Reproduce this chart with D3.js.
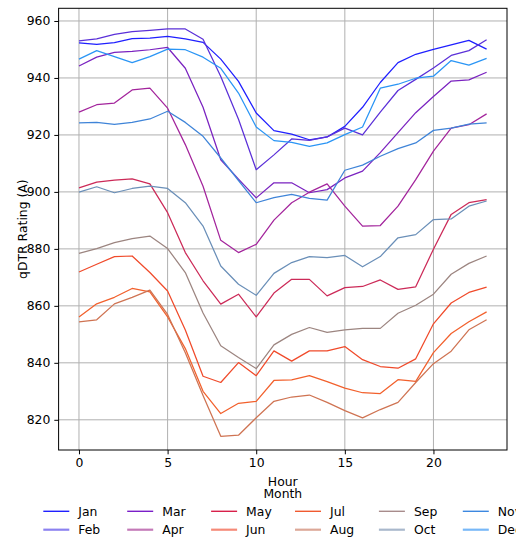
<!DOCTYPE html>
<html>
<head>
<meta charset="utf-8">
<script src="https://cdn.jsdelivr.net/npm/d3@7"></script>
<style>
  html, body { margin: 0; padding: 0; background: #fff; }
  svg { display: block; font-family: "DejaVu Sans", sans-serif; }
</style>
</head>
<body>
<svg id="chart" width="516" height="538"></svg>
<script>
// Hourly qDTR rating (A) for each month of the year
const hours = d3.range(0, 24);
const months = ["Jan", "Feb", "Mar", "Apr", "May", "Jun", "Jul", "Aug", "Sep", "Oct", "Nov", "Dec"];

const jan = [952.3, 951.8, 952.4, 953.8, 954.0, 954.6, 953.7, 952.5, 946.6, 938.8, 927.7, 921.5, 920.3, 918.3, 919.3, 923.0, 929.7, 938.4, 945.4, 948.3, 950.0, 951.6, 953.2, 950.1];
const feb = [953.0, 953.7, 955.3, 956.3, 956.7, 957.2, 957.2, 953.6, 940.5, 925.5, 907.8, 913.0, 918.6, 918.1, 919.3, 922.4, 920.0, 928.0, 935.6, 939.5, 943.5, 947.9, 949.6, 953.4];
const mar = [944.2, 947.3, 949.0, 949.3, 949.9, 950.7, 943.4, 929.7, 911.3, 904.5, 897.9, 903.2, 903.2, 899.7, 900.8, 904.9, 907.3, 913.8, 920.8, 927.8, 933.5, 938.9, 939.3, 942.0];
const apr = [928.0, 930.6, 931.2, 935.8, 936.4, 929.4, 916.6, 902.0, 883.0, 878.7, 881.6, 890.1, 896.2, 899.9, 902.8, 895.0, 888.0, 888.2, 895.0, 904.3, 914.3, 922.4, 923.6, 927.4];
const may = [901.4, 903.4, 904.1, 904.6, 902.8, 892.7, 878.7, 868.8, 860.6, 864.1, 856.1, 864.5, 869.3, 869.3, 863.5, 866.4, 866.8, 869.1, 865.8, 866.7, 879.9, 892.1, 896.2, 897.3];
const jun = [871.9, 874.6, 877.3, 877.5, 871.7, 865.2, 851.5, 835.3, 833.1, 840.1, 835.5, 844.2, 840.6, 844.2, 844.2, 845.7, 841.1, 838.7, 838.1, 841.4, 853.7, 861.0, 864.7, 866.6];
const jul = [856.1, 860.7, 863.0, 866.1, 864.9, 856.1, 845.0, 830.0, 822.2, 825.8, 826.5, 833.8, 834.0, 835.5, 833.4, 831.1, 829.5, 829.2, 834.1, 833.5, 843.6, 850.3, 854.4, 857.9];
const aug = [854.4, 855.1, 860.7, 863.0, 865.5, 857.0, 843.5, 828.5, 814.2, 814.6, 820.7, 826.5, 828.0, 828.7, 826.1, 823.2, 820.7, 823.6, 826.1, 833.1, 839.7, 844.1, 851.6, 855.1];
const sep = [878.4, 880.1, 882.2, 883.6, 884.5, 880.1, 871.7, 857.5, 846.0, 841.9, 838.0, 846.3, 850.0, 852.4, 850.7, 851.6, 852.1, 852.1, 857.4, 860.2, 864.1, 871.1, 874.9, 877.5];
const oct = [899.9, 901.8, 899.7, 901.2, 902.0, 901.2, 896.2, 888.0, 874.0, 867.6, 863.7, 871.4, 875.2, 877.3, 876.9, 877.7, 873.7, 877.3, 883.9, 885.0, 890.3, 890.5, 895.0, 896.8];
const nov = [924.2, 924.4, 923.7, 924.4, 925.6, 928.3, 924.4, 919.5, 911.9, 904.0, 896.2, 898.0, 899.1, 897.7, 897.1, 907.6, 909.4, 912.5, 915.2, 917.2, 921.6, 922.4, 923.8, 924.2];
const dec = [946.6, 949.6, 947.5, 945.4, 947.5, 950.1, 949.9, 947.3, 943.4, 934.7, 922.8, 918.0, 917.4, 916.0, 917.2, 920.1, 922.8, 936.4, 937.8, 939.9, 940.6, 946.1, 944.5, 946.9];

const seriesValues = [jan, feb, mar, apr, may, jun, jul, aug, sep, oct, nov, dec];

const xTicks = [0, 5, 10, 15, 20];
const yTicks = [820, 840, 860, 880, 900, 920, 940, 960];

// Line colours per month, and the lighter shades used by alternate legend keys
const lineColors = ["#1f1fff", "#5b30d8", "#7a22c0", "#a3249c", "#cc2a58", "#f04a2a",
                    "#f2602c", "#cf7352", "#9c8580", "#6a8fb8", "#3f84d8", "#2a95f5"];
const keyColors = ["#2020ff", "#8c82f0", "#7a1ec8", "#c47ab8", "#d8204a", "#f58a78",
                   "#f05a30", "#dca898", "#a88c8c", "#a9b8cc", "#3c88e0", "#78b8f8"];

const svg = d3.select("#chart");
const font = "12.4px";

const plot = { left: 58.6, right: 507, top: 8.3, bottom: 450 };

const x = d3.scaleLinear().domain([-1.15, 24.15]).range([plot.left, plot.right]);
const y = d3.scaleLinear().domain([809.4, 964.45]).range([plot.bottom, plot.top]);

// Grid
const grid = svg.append("g").attr("stroke", "#b0b0b0").attr("stroke-width", 1);
grid.selectAll("line.vx").data(xTicks).join("line")
  .attr("x1", d => x(d)).attr("x2", d => x(d))
  .attr("y1", plot.top).attr("y2", plot.bottom);
grid.selectAll("line.hy").data(yTicks).join("line")
  .attr("x1", plot.left).attr("x2", plot.right)
  .attr("y1", d => y(d)).attr("y2", d => y(d));

// Month lines
const line = d3.line().x((d, i) => x(hours[i])).y(d => y(d));
svg.append("g").selectAll("path").data(seriesValues).join("path")
  .attr("d", line)
  .attr("fill", "none")
  .attr("stroke", (d, i) => lineColors[i])
  .attr("stroke-width", 1.25)
  .attr("stroke-linejoin", "round");

// Axes
const xAxis = svg.append("g")
  .attr("transform", `translate(0,${plot.bottom})`)
  .call(d3.axisBottom(x).tickValues(xTicks).tickSize(4.3).tickPadding(4));
const yAxis = svg.append("g")
  .attr("transform", `translate(${plot.left},0)`)
  .call(d3.axisLeft(y).tickValues(yTicks).tickSize(4.3).tickPadding(4));
[xAxis, yAxis].forEach(a => {
  a.select(".domain").remove();
  a.selectAll(".tick line").attr("stroke", "#000").attr("stroke-width", 1);
  a.selectAll(".tick text").attr("fill", "#000").style("font-size", font)
    .style("font-family", "DejaVu Sans, sans-serif");
});

// Frame
svg.append("rect")
  .attr("x", plot.left).attr("y", plot.top)
  .attr("width", plot.right - plot.left).attr("height", plot.bottom - plot.top)
  .attr("fill", "none").attr("stroke", "#000").attr("stroke-width", 1);

// Axis titles
const cx = (plot.left + plot.right) / 2;
svg.append("text").attr("x", cx).attr("y", 485.6).attr("text-anchor", "middle")
  .style("font-size", font).text("Hour");
svg.append("text")
  .attr("transform", `translate(27,${(plot.top + plot.bottom) / 2}) rotate(-90)`)
  .attr("text-anchor", "middle").style("font-size", font).text("qDTR Rating (A)");

// Legend: title plus six columns of two rows
svg.append("text").attr("x", cx).attr("y", 498.2).attr("text-anchor", "middle")
  .style("font-size", font).text("Month");

const legend = svg.append("g");
const items = legend.selectAll("g").data(months).join("g")
  .attr("transform", (d, i) => {
    const col = Math.floor(i / 2), row = i % 2;
    return `translate(${43.3 + col * 83.9},${511.3 + row * 18.4})`;
  });
items.append("line")
  .attr("x1", 0).attr("x2", 26)
  .attr("stroke", (d, i) => keyColors[i])
  .attr("stroke-width", (d, i) => (i % 2 ? 2.2 : 1.4));
items.append("text")
  .attr("x", 35).attr("y", 0).attr("dy", "0.36em")
  .style("font-size", font).attr("fill", "#000")
  .text(d => d);
</script>
</body>
</html>
